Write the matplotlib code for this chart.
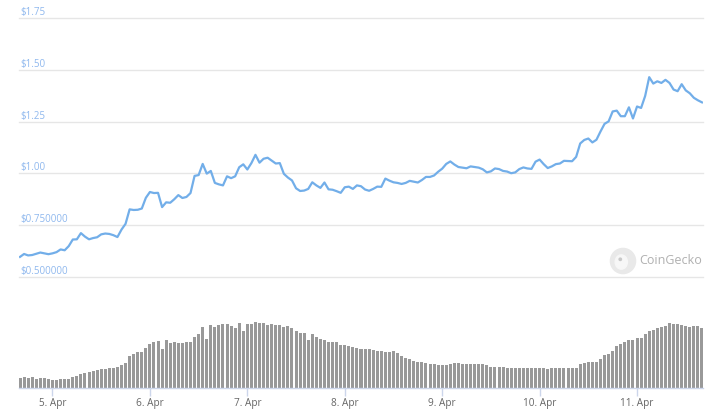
import matplotlib
matplotlib.use("Agg")
import matplotlib.pyplot as plt
import matplotlib.dates as mdates
from matplotlib.patches import Circle, Ellipse
import pandas as pd

# hourly samples, 4 Apr 16:00 -> 11 Apr 16:00
start = pd.Timestamp("2020-04-04 16:00")

prices = [
    0.596, 0.610, 0.603, 0.605, 0.611, 0.617, 0.613, 0.609, 0.613, 0.619,
    0.632, 0.628, 0.648, 0.680, 0.681, 0.711, 0.694, 0.681, 0.687, 0.691,
    0.705, 0.709, 0.707, 0.701, 0.692, 0.728, 0.756, 0.826, 0.823, 0.824,
    0.830, 0.882, 0.910, 0.905, 0.906, 0.837, 0.860, 0.858, 0.875, 0.895,
    0.881, 0.886, 0.905, 0.988, 0.992, 1.046, 0.999, 1.012, 0.954, 0.947,
    0.942, 0.986, 0.977, 0.986, 1.030, 1.044, 1.019, 1.050, 1.090, 1.052,
    1.071, 1.076, 1.062, 1.048, 1.050, 0.998, 0.980, 0.966, 0.928, 0.915,
    0.917, 0.925, 0.957, 0.942, 0.930, 0.956, 0.923, 0.921, 0.914, 0.906,
    0.933, 0.936, 0.925, 0.942, 0.938, 0.922, 0.916, 0.925, 0.936, 0.935,
    0.975, 0.965, 0.957, 0.954, 0.949, 0.954, 0.964, 0.960, 0.956, 0.968,
    0.983, 0.983, 0.990, 1.008, 1.023, 1.046, 1.058, 1.043, 1.031, 1.028,
    1.025, 1.034, 1.031, 1.028, 1.020, 1.005, 1.010, 1.024, 1.021, 1.012,
    1.009, 1.001, 1.005, 1.021, 1.029, 1.024, 1.022, 1.057, 1.067, 1.045,
    1.026, 1.034, 1.045, 1.048, 1.061, 1.060, 1.059, 1.080, 1.145, 1.162,
    1.169, 1.150, 1.163, 1.203, 1.240, 1.252, 1.300, 1.304, 1.277, 1.277,
    1.320, 1.266, 1.324, 1.317, 1.375, 1.466, 1.435, 1.446, 1.438, 1.453,
    1.438, 1.406, 1.398, 1.432, 1.402, 1.388, 1.366, 1.354, 1.344,
]

# relative volume (no scale shown on the chart)
volumes = [
    10.0, 11.0, 10.3, 11.0, 9.7, 10.0, 10.0, 9.0, 8.0, 8.3,
    9.0, 9.0, 9.0, 11.7, 12.7, 14.3, 15.3, 16.0, 17.0, 18.0,
    19.7, 19.7, 20.3, 20.7, 21.3, 23.0, 25.0, 32.3, 34.3, 36.0,
    36.0, 40.0, 44.0, 46.3, 47.3, 39.3, 48.3, 45.0, 46.0, 45.7,
    45.7, 46.0, 46.0, 51.7, 54.0, 61.0, 49.3, 63.0, 61.0, 63.7,
    64.7, 64.7, 62.0, 60.0, 65.3, 57.3, 64.0, 64.7, 66.3, 65.0,
    65.0, 63.0, 64.0, 63.7, 63.7, 61.0, 62.7, 60.0, 57.3, 55.3,
    55.0, 48.3, 54.0, 51.7, 49.3, 48.3, 46.7, 46.0, 46.0, 43.3,
    43.3, 42.3, 41.3, 40.3, 39.7, 39.3, 39.0, 38.7, 37.7, 37.0,
    36.7, 36.7, 37.3, 35.3, 32.3, 30.3, 29.3, 27.7, 26.7, 26.0,
    25.0, 24.3, 24.3, 23.3, 23.3, 23.3, 24.3, 25.3, 25.3, 24.3,
    24.3, 24.3, 24.3, 24.3, 24.0, 23.0, 21.7, 21.7, 21.7, 21.0,
    20.7, 20.7, 20.7, 20.7, 20.7, 20.7, 20.7, 20.7, 20.7, 20.0,
    19.0, 20.0, 20.0, 20.0, 20.0, 20.0, 20.0, 20.7, 24.3, 25.3,
    26.3, 26.3, 26.3, 29.0, 33.3, 34.3, 37.7, 42.3, 44.0, 46.0,
    48.3, 48.3, 50.3, 50.0, 54.0, 57.7, 58.3, 60.7, 61.0, 62.7,
    65.0, 64.7, 64.0, 63.3, 62.7, 61.3, 62.0, 62.0, 60.3,
]

price_ticks = [0.50, 0.75, 1.00, 1.25, 1.50, 1.75]
price_labels = ["$0.500000", "$0.750000", "$1.00", "$1.25", "$1.50", "$1.75"]

times = pd.date_range(start, periods=len(prices), freq="h")

W, H = 716, 415
fig = plt.figure(figsize=(W / 100, H / 100), dpi=100)
plt.rcParams["font.family"] = ["Open Sans", "DejaVu Sans"]

def px_box(x0, y_top, x1, y_bot):
    return [x0 / W, 1 - y_bot / H, (x1 - x0) / W, (y_bot - y_top) / H]

hour = pd.Timedelta(hours=1)
xlim = (mdates.date2num(start - 0.25 * hour),
        mdates.date2num(start + 168.25 * hour))

# price panel
ax = fig.add_axes(px_box(19, 18.5, 703, 276.7))
ax.plot(times, prices, color="#72aee9", lw=1.6, solid_joinstyle="round", zorder=3)
ax.set_xlim(xlim)
ax.set_ylim(0.5, 1.75)
for t, lab in zip(price_ticks, price_labels):
    ax.axhline(t, color="#e6e6e6", lw=1.0, zorder=1, clip_on=False)
    ax.text(0.0015, t, lab, transform=ax.get_yaxis_transform(),
            ha="left", va="bottom", fontsize=7, color="#8fb8ee")
ax.set_xticks([])
ax.set_yticks([])
for s in ax.spines.values():
    s.set_visible(False)
ax.patch.set_alpha(0)

# watermark
logo_ax = fig.add_axes(px_box(605, 244, 641, 278))
logo_ax.set_xlim(0, 1)
logo_ax.set_ylim(0, 1)
logo_ax.set_aspect("equal")
logo_ax.axis("off")
logo_ax.add_patch(Circle((0.5, 0.5), 0.37, color="#e9e9e9"))
logo_ax.add_patch(Ellipse((0.45, 0.47), 0.36, 0.42, color="#f7f7f7"))
logo_ax.add_patch(Circle((0.42, 0.55), 0.035, color="#c8c8c8"))
fig.text(639 / W, 1 - 261 / H, "CoinGecko", fontsize=9, color="#b0b0b0",
         ha="left", va="center")

# volume panel
vax = fig.add_axes(px_box(19, 300, 703, 388.3))
vax.bar(times, volumes, width=0.74 / 24, color="#999999", lw=0, zorder=2)
vax.set_xlim(xlim)
vax.set_ylim(0, 88.3)
vax.set_yticks([])
for k in ("top", "left", "right"):
    vax.spines[k].set_visible(False)
vax.spines["bottom"].set_color("#ccd6eb")
vax.spines["bottom"].set_linewidth(1.0)
vax.xaxis.set_major_locator(mdates.DayLocator())
vax.xaxis.set_major_formatter(mdates.DateFormatter("%-d. %b"))
vax.tick_params(axis="x", length=6, width=1, color="#ccd6eb",
                labelsize=7.2, labelcolor="#666666", pad=1)
vax.patch.set_alpha(0)

fig.savefig("out.png", dpi=100)
